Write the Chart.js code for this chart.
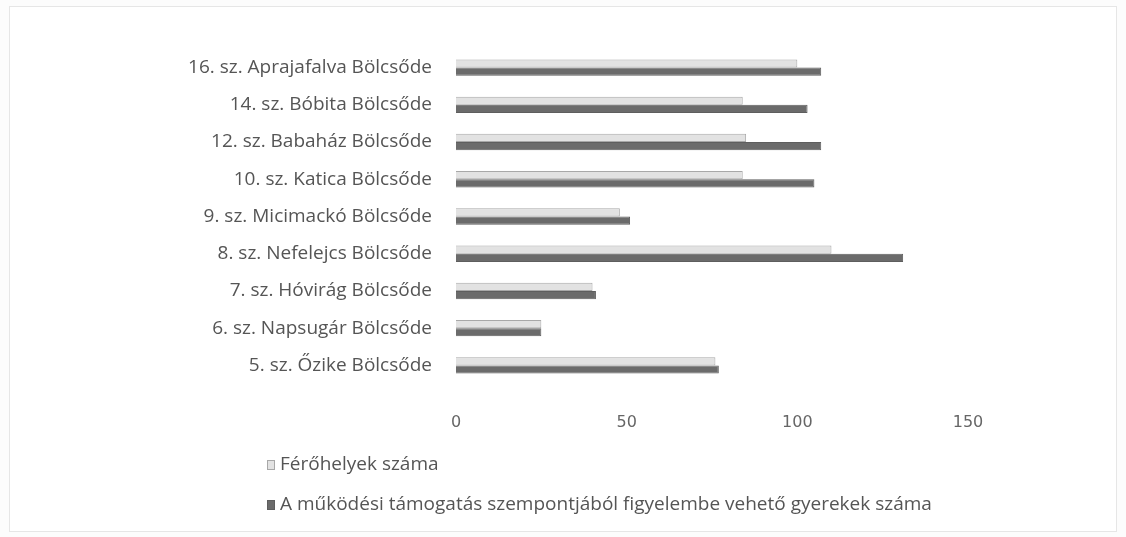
<!DOCTYPE html>
<html>
<head>
<meta charset="utf-8">
<script src="https://cdn.jsdelivr.net/npm/chart.js@4"></script>
<style>
  html, body { margin: 0; padding: 0; background: #fcfcfc; }
  #wrap { position: relative; width: 1126px; height: 537px; }
  #frame { position: absolute; left: 9px; top: 6px; width: 1106px; height: 524px; border: 1px solid #e6e6e6; background: #fff; }
  canvas { position: absolute; left: 0; top: 0; }
  #legend { position: absolute; left: 267px; top: 450px; font-family: "Open Sans", sans-serif; font-size: 19px; color: #555; }
  #legend div { height: 40px; line-height: 26px; white-space: nowrap; }
  #legend span.box { display: inline-block; width: 6px; height: 8px; margin-right: 5px; vertical-align: 0px; }
</style>
</head>
<body>
<div id="wrap">
  <div id="frame"></div>
  <canvas id="chart" width="1126" height="537"></canvas>
  <div id="legend"></div>
</div>
<script>
// ====== DATA ======
const categories = [
  "16. sz. Aprajafalva Bölcsőde",
  "14. sz. Bóbita Bölcsőde",
  "12. sz. Babaház Bölcsőde",
  "10. sz. Katica Bölcsőde",
  "9. sz. Micimackó Bölcsőde",
  "8. sz. Nefelejcs Bölcsőde",
  "7. sz. Hóvirág Bölcsőde",
  "6. sz. Napsugár Bölcsőde",
  "5. sz. Őzike Bölcsőde"
];
const ferohelyek = [100, 84, 85, 84, 48, 110, 40, 25, 76];
const gyerekek = [107, 103, 107, 105, 51, 131, 41, 25, 77];
const xTicks = [0, 50, 100, 150];

const seriesNames = [
  "Férőhelyek száma",
  "A működési támogatás szempontjából figyelembe vehető gyerekek száma"
];
const seriesColors = ["#e2e2e2", "#6b6b6b"];
const seriesBorders = ["#a8a8a8", "#5e5e5e"];

// ====== CHART ======
const ctx = document.getElementById('chart').getContext('2d');
const chart = new Chart(ctx, {
  type: 'bar',
  data: {
    labels: categories,
    datasets: [
      { label: seriesNames[0], data: ferohelyek, backgroundColor: seriesColors[0], borderColor: seriesBorders[0], borderWidth: 1 },
      { label: seriesNames[1], data: gyerekek, backgroundColor: seriesColors[1], borderColor: seriesBorders[1], borderWidth: 1 }
    ]
  },
  options: {
    indexAxis: 'y',
    responsive: false,
    animation: false,
    categoryPercentage: 0.44,
    barPercentage: 1,
    layout: { padding: { top: 49, right: 158, bottom: 103, left: 0 } },
    plugins: {
      legend: { display: false },
      tooltip: { enabled: false }
    },
    scales: {
      x: {
        min: 0, max: 150,
        grid: { display: false },
        border: { display: false },
        afterBuildTicks: s => { s.ticks = xTicks.map(v => ({ value: v })); },
        afterFit: s => { s.height = 50; },
        ticks: { padding: 21, color: '#666', font: { family: 'DejaVu Sans', size: 16 } }
      },
      y: {
        grid: { display: false },
        border: { display: false },
        afterFit: s => { s.width = 456; },
        ticks: { padding: 16, color: '#555', font: { family: 'Open Sans', size: 19 } }
      }
    }
  }
});

// ====== LEGEND ======
document.getElementById('legend').innerHTML = seriesNames.map((n, i) =>
  `<div><span class="box" style="background:${seriesColors[i]};border:1px solid ${seriesBorders[i]}"></span>${n}</div>`
).join('');
</script>
</body>
</html>
